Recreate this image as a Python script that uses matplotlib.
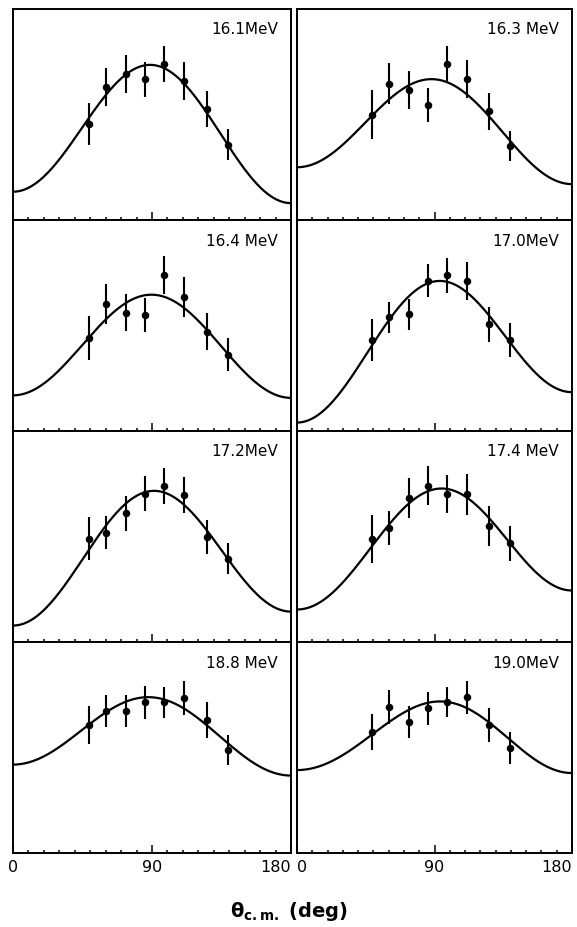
import numpy as np
import matplotlib.pyplot as plt

# panel labels (beam energy), row by row: left, right
energies = ["16.1MeV", "16.3 MeV", "16.4 MeV", "17.0MeV",
            "17.2MeV", "17.4 MeV", "18.8 MeV", "19.0MeV"]

# c.m. angles of the measured points (deg)
theta = [49, 60.5, 73, 85.5, 98, 111, 125.5, 139.5]

# measured yields (arb. units, panel height = 1)
y_161 = [0.455, 0.632, 0.693, 0.667, 0.738, 0.659, 0.525, 0.357]
y_163 = [0.499, 0.645, 0.618, 0.545, 0.739, 0.670, 0.515, 0.351]
y_164 = [0.441, 0.602, 0.561, 0.550, 0.739, 0.636, 0.471, 0.362]
y_170 = [0.433, 0.539, 0.553, 0.712, 0.738, 0.712, 0.507, 0.433]
y_172 = [0.490, 0.518, 0.611, 0.703, 0.741, 0.697, 0.497, 0.395]
y_174 = [0.487, 0.541, 0.684, 0.741, 0.700, 0.700, 0.549, 0.468]
y_188 = [0.607, 0.673, 0.673, 0.714, 0.714, 0.736, 0.632, 0.488]
y_190 = [0.572, 0.692, 0.622, 0.686, 0.717, 0.738, 0.607, 0.498]

# error bars (half length)
e_161 = [0.100, 0.090, 0.090, 0.083, 0.085, 0.090, 0.085, 0.075]
e_163 = [0.115, 0.097, 0.090, 0.080, 0.087, 0.090, 0.087, 0.071]
e_164 = [0.105, 0.097, 0.089, 0.082, 0.092, 0.095, 0.088, 0.077]
e_170 = [0.100, 0.073, 0.073, 0.079, 0.083, 0.089, 0.083, 0.080]
e_172 = [0.102, 0.077, 0.083, 0.083, 0.085, 0.086, 0.082, 0.075]
e_174 = [0.113, 0.079, 0.095, 0.091, 0.090, 0.097, 0.094, 0.083]
e_188 = [0.089, 0.075, 0.077, 0.077, 0.074, 0.081, 0.085, 0.073]
e_190 = [0.086, 0.081, 0.077, 0.077, 0.071, 0.079, 0.080, 0.074]

# fitted curves W = a + b sin^2 + c sin^2 cos + d cos
fit_a = [0.107, 0.210, 0.163, 0.112, 0.111, 0.199, 0.393, 0.386]
fit_b = [0.628, 0.457, 0.483, 0.597, 0.605, 0.525, 0.345, 0.331]
fit_c = [0.000, -0.008, 0.000, 0.000, 0.005, -0.041, 0.003, -0.049]
fit_d = [0.027, 0.040, 0.006, -0.072, -0.033, -0.045, 0.026, 0.007]

yields = [y_161, y_163, y_164, y_170, y_172, y_174, y_188, y_190]
errors = [e_161, e_163, e_164, e_170, e_172, e_174, e_188, e_190]

W, H = 577, 928
fig = plt.figure(figsize=(W / 100, H / 100), dpi=100)

col_x = [13, 297]
col_w = [278, 275]
top, row_h = 10, 211

th = np.linspace(0, 180, 361)
s = np.sin(np.radians(th))
c = np.cos(np.radians(th))

for i in range(8):
    row, col = divmod(i, 2)
    ax = fig.add_axes([col_x[col] / W, 1 - (top + row_h * (row + 1)) / H,
                       col_w[col] / W, row_h / H])
    curve = fit_a[i] + fit_b[i] * s**2 + fit_c[i] * s**2 * c + fit_d[i] * c
    ax.plot(th, curve, color="black", lw=1.6)
    ax.errorbar(theta, yields[i], yerr=errors[i], fmt="o", color="black",
                ms=4.4, elinewidth=1.5, capsize=0)
    # energy label, a fixed pixel offset from the top right corner
    ax.text(1 - 13 / col_w[col], 1 - 20 / row_h, energies[i],
            transform=ax.transAxes, fontsize=11, ha="right", va="center")

    ax.set_xlim(0, 180)
    ax.set_ylim(0, 1)
    ax.set_yticks([])
    ax.set_xticks([0, 90, 180])
    ax.set_xticks(range(0, 181, 10), minor=True)
    ax.tick_params(axis="x", which="major", direction="in", length=5.5,
                   width=1.1, pad=4, labelsize=11.5)
    ax.tick_params(axis="x", which="minor", direction="in", length=2.2,
                   width=1.1)
    for sp in ax.spines.values():
        sp.set_linewidth(1.4)
    if row < 3:
        ax.tick_params(axis="x", labelbottom=False)
    else:
        ax.set_xticklabels(["0", "90", "180"])
        labs = ax.get_xticklabels()
        if col == 0:
            labs[2].set_ha("right")
        else:
            labs[0].set_ha("left")
            labs[2].set_ha("right")

fig.text(0.5, 1 - 912 / H, r"$\mathbf{\theta}_{\mathbf{c.m.}}$ $\mathbf{(deg)}$",
         fontsize=14, ha="center", va="center")

fig.savefig("out.png", dpi=100)
